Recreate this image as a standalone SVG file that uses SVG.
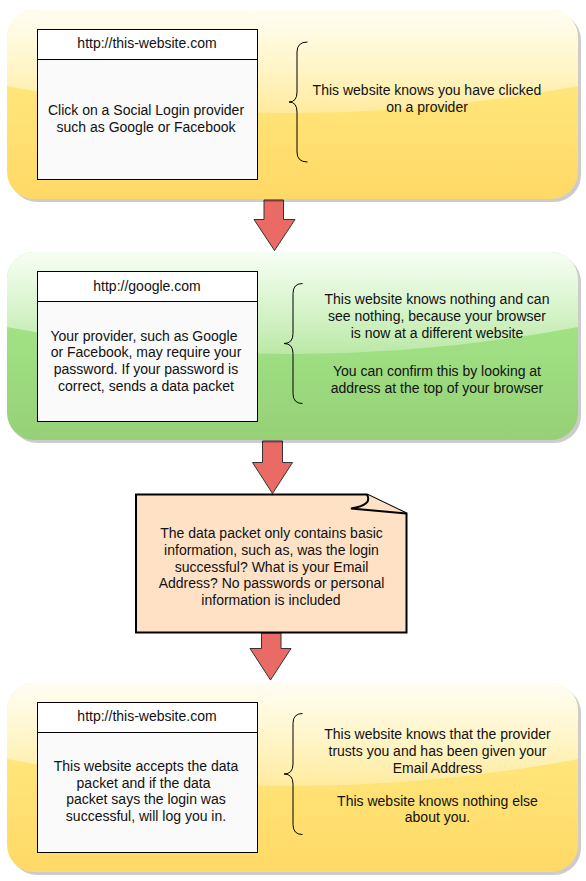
<svg xmlns="http://www.w3.org/2000/svg" width="586" height="881" viewBox="0 0 586 881">
<style>
text{font-family:"Liberation Sans",Arial,sans-serif;font-size:14px;fill:#111;text-anchor:middle}
.shadow{fill:#000;opacity:0.2}
.box{fill:#fafafa;stroke:#000;stroke-width:1}
.hdr{fill:#fff;stroke:#000;stroke-width:1}
.brace{fill:none;stroke:#000;stroke-width:1}
.arrow{fill:#ea6b66;stroke:#333;stroke-width:1}
.glass{fill:url(#glass)}
</style>
<defs>
<linearGradient id="gy" x1="0" y1="0" x2="0" y2="1"><stop offset="0" stop-color="#ffee88"/><stop offset="1" stop-color="#ffd966"/></linearGradient>
<linearGradient id="gg" x1="0" y1="0" x2="0" y2="1"><stop offset="0" stop-color="#a8ee8e"/><stop offset="1" stop-color="#97d077"/></linearGradient>
<linearGradient id="glass" x1="0" y1="0" x2="0" y2="1"><stop offset="0" stop-color="#fff" stop-opacity="0.9"/><stop offset="1" stop-color="#fff" stop-opacity="0.3"/></linearGradient>
<clipPath id="c1"><rect x="7" y="10" width="571" height="189" rx="27"/></clipPath>
<clipPath id="c2"><rect x="7" y="252" width="571" height="188" rx="27"/></clipPath>
<clipPath id="c3"><rect x="7" y="683" width="571" height="189" rx="27"/></clipPath>
</defs>

<g id="connectors">
<path class="arrow" d="M264 200 H283.5 V219.5 H295 L274.5 250.5 L254 219.5 H264 Z"/>
<path class="arrow" d="M262.5 441 H282.5 V462.5 H292.5 L272.5 493.5 L252.5 462.5 H262.5 Z"/>
<path class="arrow" d="M261.5 633 H281 V648.5 H291 L270.5 680 L250 648.5 H261.5 Z"/>
</g>

<g id="panel1">
<rect class="shadow" x="10" y="13" width="571" height="189" rx="27"/>
<rect x="7" y="10" width="571" height="189" rx="27" fill="url(#gy)"/>
<path class="glass" clip-path="url(#c1)" d="M7 10 H578 V86 Q292.5 140 7 86 Z"/>
</g>
<g id="box1">
<rect class="box" x="37.5" y="29.5" width="220" height="150"/>
<rect class="hdr" x="37.5" y="29.5" width="220" height="30"/>
<text x="147" y="48">http://this-website.com</text>
<text x="146" y="115">Click on a Social Login provider</text>
<text x="146" y="132">such as Google or Facebook</text>
</g>
<g id="brace1">
<path class="brace" d="M307.5 42 Q297 42 297 52 V92 Q297 102 289 102 Q297 102 297 112 V152 Q297 162 307.5 162"/>
<text x="427" y="95">This website knows you have clicked</text>
<text x="427" y="112">on a provider</text>
</g>

<g id="panel2">
<rect class="shadow" x="10" y="255" width="571" height="188" rx="27"/>
<rect x="7" y="252" width="571" height="188" rx="27" fill="url(#gg)"/>
<path class="glass" clip-path="url(#c2)" d="M7 252 H578 V327 Q292.5 381 7 327 Z"/>
</g>
<g id="box2">
<rect class="box" x="37.5" y="271.5" width="220" height="150"/>
<rect class="hdr" x="37.5" y="271.5" width="220" height="30"/>
<text x="147" y="290.5">http://google.com</text>
<text x="144" y="340.7">Your provider, such as Google</text>
<text x="146" y="357.3">or Facebook, may require your</text>
<text x="146" y="374">password. If your password is</text>
<text x="146" y="390.7">correct, sends a data packet</text>
</g>
<g id="brace2">
<path class="brace" d="M302.5 283.5 Q293 283.5 293 293.5 V333.5 Q293 343.5 284 343.5 Q293 343.5 293 353.5 V393.5 Q293 403.5 302.5 403.5"/>
<text x="437" y="304.3">This website knows nothing and can</text>
<text x="437" y="321">see nothing, because your browser</text>
<text x="437" y="337.7">is now at a different website</text>
<text x="437" y="376">You can confirm this by looking at</text>
<text x="437" y="392.7">address at the top of your browser</text>
</g>

<g id="note1">
<path d="M136 494.5 H367 L406.5 513.5 V632.5 H136 Z" fill="#ffe2c6" stroke="#000" stroke-width="2" stroke-linejoin="miter"/>
<path d="M367 494.5 Q373 505 351 508.5 L406.5 513.5" fill="#ffe2c6" stroke="#000" stroke-width="2"/>
<text x="271.5" y="538.3">The data packet only contains basic</text>
<text x="271.5" y="555">information, such as, was the login</text>
<text x="271.5" y="571.7">successful? What is your Email</text>
<text x="271.5" y="588.3">Address? No passwords or personal</text>
<text x="271" y="605">information is included</text>
</g>

<g id="panel3">
<rect class="shadow" x="10" y="686" width="571" height="189" rx="27"/>
<rect x="7" y="683" width="571" height="189" rx="27" fill="url(#gy)"/>
<path class="glass" clip-path="url(#c3)" d="M7 683 H578 V759 Q292.5 813 7 759 Z"/>
</g>
<g id="box3">
<rect class="box" x="37.5" y="702.5" width="220" height="150"/>
<rect class="hdr" x="37.5" y="702.5" width="220" height="30"/>
<text x="147" y="721">http://this-website.com</text>
<text x="146" y="771">This website accepts the data</text>
<text x="143.5" y="787.7">packet and if the data</text>
<text x="146" y="804.3">packet says the login was</text>
<text x="146" y="821">successful, will log you in.</text>
</g>
<g id="brace3">
<path class="brace" d="M302.5 713.5 Q293 713.5 293 723.5 V764 Q293 774 284 774 Q293 774 293 784 V824.5 Q293 834.5 302.5 834.5"/>
<text x="437.5" y="739.3">This website knows that the provider</text>
<text x="437.5" y="756">trusts you and has been given your</text>
<text x="437.5" y="772.7">Email Address</text>
<text x="437.5" y="805.7">This website knows nothing else</text>
<text x="437.5" y="822.3">about you.</text>
</g>
</svg>
